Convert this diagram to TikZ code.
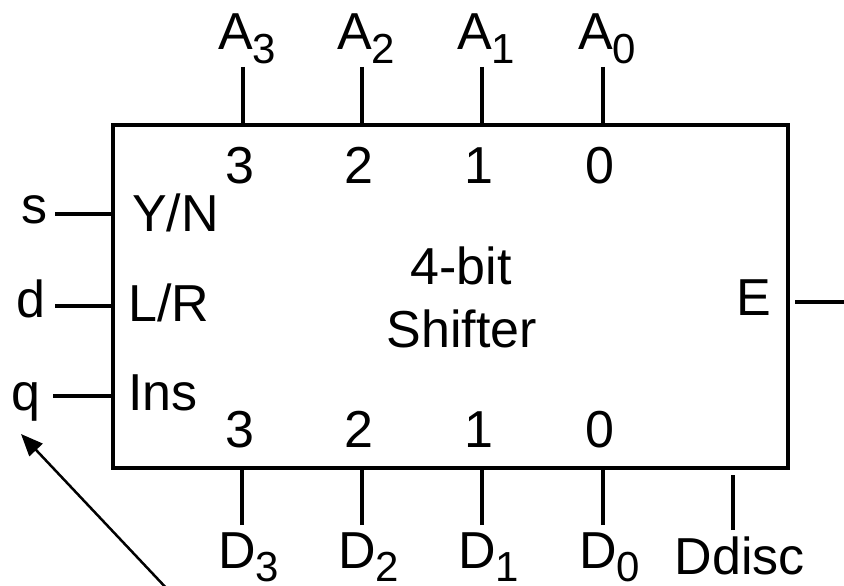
\documentclass[tikz,border=0pt]{standalone}
\usepackage{fontspec}
\setmainfont{Liberation Sans}
\usepackage{tikz}
\usetikzlibrary{arrows.meta}

% index digit hung below a signal name
\newcommand{\idx}[1]{\raisebox{-13.5pt}{\fontsize{42}{42}\selectfont #1}}

\begin{document}
\begin{tikzpicture}[x=1pt,y=-1pt]
\tikzstyle{every node}+=[inner sep=0pt, font=\fontsize{52}{62}\selectfont]
\tikzstyle{pin}=[black, line width=3.5pt]
\useasboundingbox (0,0) rectangle (844,586);
% the shifter block
\node [draw, pin, minimum width=675pt, minimum height=343pt] (box) at (450.5,296.5) {};
\node [anchor=base] (title1) at (461,284) {4-bit};
\node [anchor=base] (title2) at (462,347) {Shifter};
% data inputs A3..A0
\coordinate (pA3) at (243,67);
\coordinate (pA2) at (362,67);
\coordinate (pA1) at (482,67);
\coordinate (pA0) at (603,67);
\draw [pin] (pA3) -- (pA3 |- box.north);
\draw [pin] (pA2) -- (pA2 |- box.north);
\draw [pin] (pA1) -- (pA1 |- box.north);
\draw [pin] (pA0) -- (pA0 |- box.north);
\node [anchor=base west] (A3) at (218,50) {A\idx{3}};
\node [anchor=base west] (A2) at (337,50) {A\idx{2}};
\node [anchor=base west] (A1) at (457,50) {A\idx{1}};
\node [anchor=base west] (A0) at (578,50) {A\idx{0}};
\node [anchor=base] (in3) at (240,183) {3};
\node [anchor=base] (in2) at (359,183) {2};
\node [anchor=base] (in1) at (479,183) {1};
\node [anchor=base] (in0) at (600,183) {0};
% data outputs D3..D0 and Ddisc
\coordinate (pD3) at (242,525);
\coordinate (pD2) at (362,525);
\coordinate (pD1) at (482,525);
\coordinate (pD0) at (603,525);
\coordinate (pDd) at (733,530);
\draw [pin] (pD3) -- (pD3 |- box.south);
\draw [pin] (pD2) -- (pD2 |- box.south);
\draw [pin] (pD1) -- (pD1 |- box.south);
\draw [pin] (pD0) -- (pD0 |- box.south);
\draw [pin, shorten >=5pt] (pDd) -- (pDd |- box.south);
\node [anchor=base] (out3) at (240,447) {3};
\node [anchor=base] (out2) at (359,447) {2};
\node [anchor=base] (out1) at (479,447) {1};
\node [anchor=base] (out0) at (600,447) {0};
\node [anchor=base west] (D3) at (218,568) {D\idx{3}};
\node [anchor=base west] (D2) at (338,568) {D\idx{2}};
\node [anchor=base west] (D1) at (458,568) {D\idx{1}};
\node [anchor=base west] (D0) at (579,568) {D\idx{0}};
\node [anchor=base] (Dd) at (740,574) {Ddisc};
% control inputs
\coordinate (ps) at (55,214);
\coordinate (pd) at (55,306);
\coordinate (pq) at (53,396);
\draw [pin] (ps) -- (ps -| box.west);
\draw [pin] (pd) -- (pd -| box.west);
\draw [pin] (pq) -- (pq -| box.west);
\node [anchor=base west] (s) at (21,223) {s};
\node [anchor=base west] (d) at (16,317) {d};
\node [anchor=base west] (q) at (11,410) {q};
\node [anchor=base west] (YN) at (132,231) {Y/N};
\node [anchor=base west] (LR) at (128,321) {L/R};
\node [anchor=base west] (Ins) at (128,410) {Ins};
% empty flag
\coordinate (pE) at (844,302);
\draw [pin, shorten >=5pt] (pE) -- (pE -| box.east);
\node [anchor=base west] (E) at (736,315) {E};
% pointer to q
\coordinate (qtail) at (170,592);
\coordinate (qtip) at (21,434);
\draw [black, line width=2.5pt, -{Triangle[length=22pt,width=18pt]}] (qtail) -- (qtip);
\end{tikzpicture}
\end{document}
